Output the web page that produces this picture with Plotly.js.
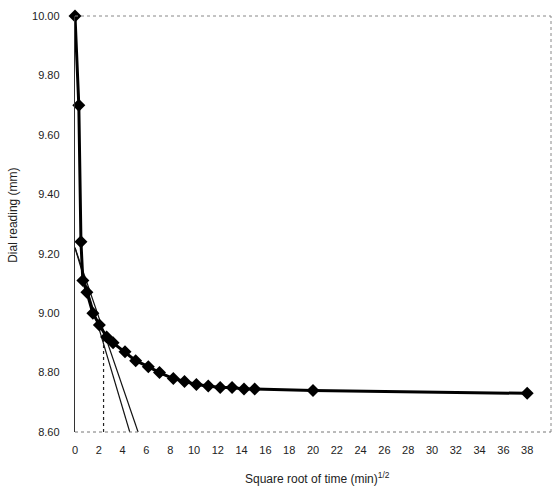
<!DOCTYPE html>
<html>
<head>
<meta charset="utf-8">
<script src="https://cdn.plot.ly/plotly-3.0.1.min.js"></script>
<style>html,body{margin:0;padding:0;background:#fff;}#chart{width:557px;height:492px;}</style>
</head>
<body>
<div id="chart"></div>
<script>
// Square root of time (min^1/2) and dial readings (mm)
const sqrtTime = [0, 0.32, 0.5, 0.66, 1.0, 1.5, 2.05, 2.66, 3.2, 4.2, 5.1, 6.16, 7.1, 8.26, 9.2, 10.2, 11.2, 12.2, 13.2, 14.2, 15.1, 20, 38];
const dialReading = [10.00, 9.70, 9.24, 9.11, 9.07, 9.00, 8.96, 8.92, 8.90, 8.87, 8.84, 8.82, 8.80, 8.78, 8.77, 8.76, 8.755, 8.75, 8.75, 8.745, 8.745, 8.74, 8.73];

// Construction lines (Taylor method)
const tangent1X = [0, 4.6];
const tangent1Y = [9.22, 8.60];
const tangent2X = [0, 5.3];
const tangent2Y = [9.22, 8.60];
const guideX = [2.4, 2.4];
const guideY = [8.60, 8.94];

const xTicks = [0,2,4,6,8,10,12,14,16,18,20,22,24,26,28,30,32,34,36,38,40];
const yTicks = [8.60, 8.80, 9.00, 9.20, 9.40, 9.60, 9.80, 10.00];

const traces = [
  {x: tangent1X, y: tangent1Y, mode: 'lines', line: {color: '#111', width: 1.2}, hoverinfo: 'skip'},
  {x: tangent2X, y: tangent2Y, mode: 'lines', line: {color: '#111', width: 1.2}, hoverinfo: 'skip'},
  {x: guideX, y: guideY, mode: 'lines', line: {color: '#222', width: 1.2, dash: 'dot'}, hoverinfo: 'skip'},
  {x: sqrtTime, y: dialReading, mode: 'lines+markers', cliponaxis: false,
   line: {color: '#000', width: 3},
   marker: {symbol: 'diamond', size: 10, color: '#000'}}
];

const font = {family: 'Liberation Sans, Arial, sans-serif', size: 11, color: '#222'};

const layout = {
  width: 557, height: 492,
  margin: {l: 75, r: 6, t: 16, b: 60},
  paper_bgcolor: '#fff', plot_bgcolor: '#fff',
  showlegend: false,
  font: font,
  xaxis: {
    range: [0, 40], tickvals: xTicks, ticktext: xTicks.map(String),
    showgrid: false, zeroline: false, showline: false, ticks: '',
    ticklabelstandoff: 10, tickfont: {size: 11, color: '#222'}
  },
  yaxis: {
    range: [8.60, 10.00], tickvals: yTicks, ticktext: yTicks.map(v => v.toFixed(2)),
    showgrid: false, zeroline: false, showline: true, linecolor: '#333', linewidth: 1.2,
    ticks: '', ticklabelstandoff: 12, tickfont: {size: 11, color: '#222'}
  },
  shapes: [
    {type: 'line', xref: 'paper', yref: 'paper', x0: 0, x1: 1, y0: 1, y1: 1, line: {color: '#888', width: 1, dash: 'dot'}},
    {type: 'line', xref: 'paper', yref: 'paper', x0: 1, x1: 1, y0: 0, y1: 1, line: {color: '#888', width: 1, dash: 'dot'}},
    {type: 'line', xref: 'paper', yref: 'paper', x0: 0, x1: 1, y0: 0, y1: 0, line: {color: '#777', width: 1, dash: 'dot'}}
  ],
  annotations: [
    {text: 'Square root of time (min)<sup>1/2</sup>', xref: 'paper', yref: 'paper', x: 0.51, y: -0.11,
     showarrow: false, font: {size: 12, color: '#222'}, xanchor: 'center', yanchor: 'middle'},
    {text: 'Dial reading (mm)', xref: 'paper', yref: 'paper', x: -0.13, y: 0.52, textangle: -90,
     showarrow: false, font: {size: 12, color: '#222'}, xanchor: 'center', yanchor: 'middle'}
  ]
};

Plotly.newPlot('chart', traces, layout, {displayModeBar: false, staticPlot: true});
</script>
</body>
</html>
